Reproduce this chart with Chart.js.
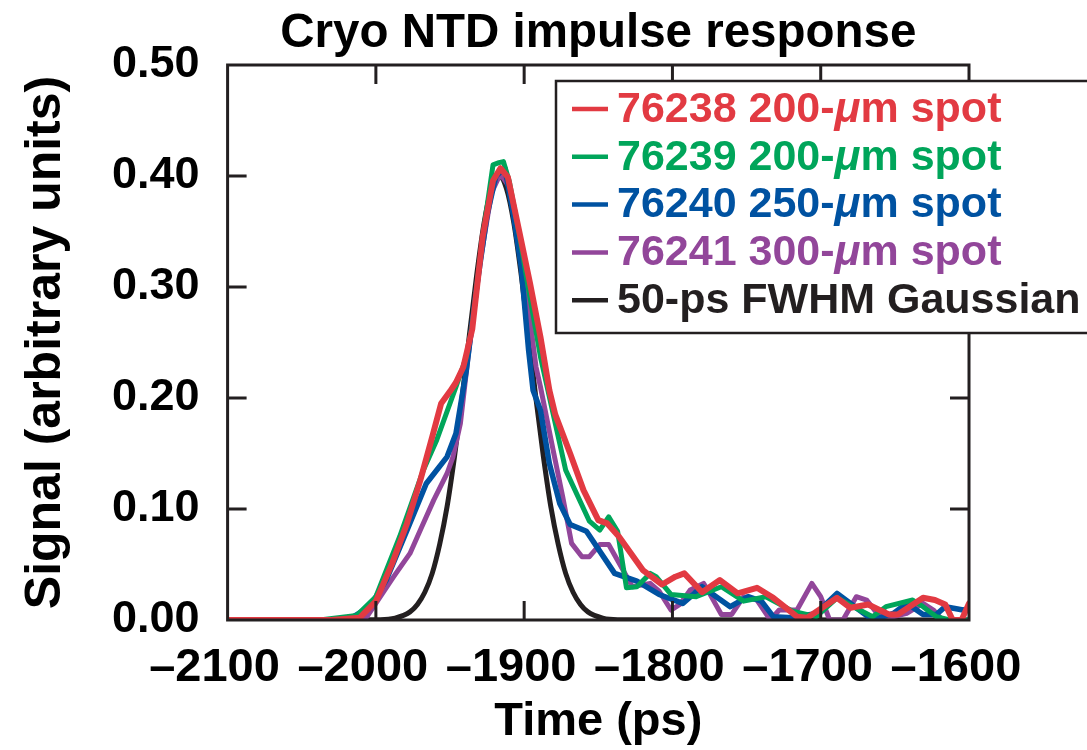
<!DOCTYPE html>
<html lang="en">

<head>
  <meta charset="UTF-8" />
  <title>Cryo NTD impulse response</title>
  <script src="https://cdn.jsdelivr.net/npm/chart.js"></script>
  <style>
    body { margin: 0; background: #fff; }
    #box { width: 1087px; height: 750px; }
  </style>
</head>

<body>
  <div id="box">
    <canvas id="grafico" width="1087" height="750"></canvas>
  </div>

  <script>
    // tick values
    var xTicks = [-2100, -2000, -1900, -1800, -1700, -1600];
    var yTicks = [0, 0.1, 0.2, 0.3, 0.4, 0.5];

    var seriesLabels = [
      "76238 200-μm spot",
      "76239 200-μm spot",
      "76240 250-μm spot",
      "76241 300-μm spot",
      "50-ps FWHM Gaussian",
    ];

    // 76238 200-um spot
    var redTime = [-2100, -2030, -2011, -2000, -1989, -1979, -1970, -1962, -1956, -1950, -1946, -1941, -1935, -1928, -1921, -1916, -1911, -1903, -1896, -1889, -1883, -1879, -1869, -1860, -1850, -1844, -1836, -1820, -1807, -1798, -1792, -1780, -1768, -1756, -1743, -1732, -1716, -1709, -1689, -1680, -1668, -1654, -1648, -1631, -1623, -1616, -1611, -1605, -1600];
    var redSignal = [0, 0, 0.002, 0.017, 0.051, 0.087, 0.126, 0.165, 0.195, 0.206, 0.214, 0.228, 0.262, 0.345, 0.396, 0.407, 0.399, 0.348, 0.303, 0.255, 0.207, 0.185, 0.150, 0.117, 0.090, 0.087, 0.075, 0.045, 0.032, 0.039, 0.042, 0.025, 0.036, 0.024, 0.029, 0.020, 0.003, 0.002, 0.020, 0.011, 0.014, 0.005, 0.005, 0.020, 0.018, 0.014, 0, 0, 0.015];

    // 76239 200-um spot
    var greenTime = [-2100, -2038, -2013, -2000, -1984, -1968, -1959, -1946, -1939, -1935, -1928, -1921, -1917, -1914, -1910, -1903, -1896, -1889, -1881, -1872, -1856, -1849, -1843, -1837, -1831, -1824, -1815, -1811, -1801, -1784, -1767, -1752, -1737, -1719, -1703, -1689, -1678, -1665, -1656, -1638, -1631, -1622, -1613, -1600];
    var greenSignal = [0, 0, 0.004, 0.021, 0.075, 0.135, 0.162, 0.210, 0.237, 0.265, 0.345, 0.410, 0.412, 0.413, 0.395, 0.345, 0.290, 0.237, 0.189, 0.135, 0.089, 0.081, 0.093, 0.080, 0.029, 0.030, 0.042, 0.039, 0.023, 0.021, 0.030, 0.017, 0.021, 0.008, 0.003, 0.020, 0.012, 0.003, 0.012, 0.018, 0.012, 0.003, 0, 0];

    // 76240 250-um spot
    var blueTime = [-2100, -2030, -2015, -2004, -1993, -1979, -1966, -1952, -1946, -1939, -1932, -1925, -1919, -1913, -1907, -1902, -1897, -1894, -1889, -1883, -1876, -1869, -1858, -1839, -1824, -1809, -1793, -1780, -1761, -1749, -1740, -1732, -1719, -1703, -1689, -1674, -1665, -1651, -1642, -1631, -1622, -1616, -1604, -1600];
    var blueSignal = [0, 0, 0.003, 0.012, 0.036, 0.081, 0.123, 0.147, 0.168, 0.225, 0.300, 0.365, 0.400, 0.407, 0.363, 0.318, 0.243, 0.207, 0.189, 0.141, 0.105, 0.086, 0.080, 0.042, 0.035, 0.023, 0.015, 0.030, 0.012, 0.021, 0.017, 0.003, 0.002, 0.006, 0.024, 0.009, 0, 0.006, 0.015, 0.005, 0.005, 0.012, 0.009, 0.010];

    // 76241 300-um spot
    var purpleTime = [-2100, -2020, -2006, -2000, -1988, -1977, -1970, -1961, -1952, -1948, -1943, -1938, -1930, -1922, -1916, -1910, -1903, -1897, -1892, -1889, -1880, -1874, -1868, -1861, -1856, -1849, -1843, -1827, -1815, -1809, -1801, -1795, -1788, -1779, -1775, -1767, -1760, -1752, -1743, -1734, -1728, -1716, -1706, -1700, -1694, -1685, -1676, -1669, -1662, -1654, -1642, -1631, -1624, -1618, -1600];
    var purpleSignal = [0, 0, 0.003, 0.015, 0.039, 0.060, 0.081, 0.108, 0.132, 0.147, 0.177, 0.235, 0.320, 0.385, 0.402, 0.390, 0.340, 0.280, 0.228, 0.210, 0.150, 0.111, 0.069, 0.057, 0.057, 0.068, 0.068, 0.030, 0.033, 0.026, 0.009, 0.014, 0.027, 0.033, 0.024, 0.005, 0.005, 0.021, 0.018, 0, 0.009, 0.009, 0.033, 0.021, 0, 0, 0.021, 0.018, 0.006, 0.002, 0.006, 0.015, 0.009, 0, 0];

    // 50-ps FWHM Gaussian
    var gaussTime = [-2100, -1997, -1987, -1977, -1972, -1967, -1962, -1957, -1952, -1947, -1942, -1937, -1932, -1927, -1922, -1917, -1912, -1907, -1902, -1897, -1892, -1887, -1882, -1877, -1872, -1867, -1862, -1857, -1847, -1837, -1600];
    var gaussSignal = [0, 0.0003, 0.0017, 0.0073, 0.014, 0.025, 0.042, 0.068, 0.102, 0.147, 0.199, 0.256, 0.311, 0.358, 0.389, 0.400, 0.389, 0.358, 0.311, 0.256, 0.199, 0.147, 0.102, 0.068, 0.042, 0.025, 0.014, 0.0073, 0.0017, 0.0003, 0];

    var cores = ["#e23a42", "#00a55a", "#0052a1", "#92469a", "#231f20"];
    var larguras = [6, 5, 5.5, 5, 5];

    function juntar(tempo, sinal) {
      var pontos = [];
      for (var i = 0; i < tempo.length; i++) {
        pontos.push({ x: tempo[i], y: sinal[i] });
      }
      return pontos;
    }

    var seriesData = [
      juntar(redTime, redSignal),
      juntar(greenTime, greenSignal),
      juntar(blueTime, blueSignal),
      juntar(purpleTime, purpleSignal),
      juntar(gaussTime, gaussSignal),
    ];

    var datasets = [];
    for (var i = 0; i < seriesData.length; i++) {
      datasets.push({
        label: seriesLabels[i],
        data: seriesData[i],
        borderColor: cores[i],
        backgroundColor: cores[i],
        borderWidth: larguras[i],
        pointRadius: 0,
        fill: false,
        tension: 0,
        cubicInterpolationMode: i == 4 ? "monotone" : "default",
        borderJoinStyle: "round",
        borderCapStyle: "round",
      });
    }

    var fonte = "'Liberation Sans', Arial, Helvetica, sans-serif";

    // frame, inward ticks, title and boxed legend
    var moldura = {
      id: "moldura",
      afterDatasetsDraw: function (chart) {
        var ctx = chart.ctx;
        var a = chart.chartArea;
        var sx = chart.scales.x;
        var sy = chart.scales.y;
        var tam = 19;

        ctx.save();
        ctx.strokeStyle = "#231f20";
        ctx.lineWidth = 3;
        ctx.beginPath();
        for (var i = 1; i < xTicks.length - 1; i++) {
          var px = sx.getPixelForValue(xTicks[i]);
          ctx.moveTo(px, a.bottom);
          ctx.lineTo(px, a.bottom - tam);
          ctx.moveTo(px, a.top);
          ctx.lineTo(px, a.top + tam);
        }
        for (var j = 1; j < yTicks.length - 1; j++) {
          var py = sy.getPixelForValue(yTicks[j]);
          ctx.moveTo(a.left, py);
          ctx.lineTo(a.left + tam, py);
          ctx.moveTo(a.right, py);
          ctx.lineTo(a.right - tam, py);
        }
        ctx.stroke();
        ctx.strokeRect(a.left, a.top, a.right - a.left, a.bottom - a.top);

        // title
        ctx.fillStyle = "#000";
        ctx.font = "bold 47.5px " + fonte;
        ctx.textAlign = "center";
        ctx.textBaseline = "alphabetic";
        ctx.fillText("Cryo NTD impulse response", (a.left + a.right) / 2, 47);

        // legend
        var lx = 556, ly = 81, lw = 540, lh = 252;
        ctx.fillStyle = "#fff";
        ctx.fillRect(lx, ly, lw, lh);
        ctx.lineWidth = 2.5;
        ctx.strokeRect(lx, ly, lw, lh);

        ctx.textAlign = "left";
        ctx.textBaseline = "middle";
        for (var k = 0; k < chart.data.datasets.length; k++) {
          var ds = chart.data.datasets[k];
          var yy = 109 + k * 47.8;
          ctx.strokeStyle = ds.borderColor;
          ctx.lineWidth = 4.5;
          ctx.beginPath();
          ctx.moveTo(572, yy);
          ctx.lineTo(608, yy);
          ctx.stroke();

          ctx.fillStyle = ds.borderColor;
          var partes = ds.label.split("μ");
          var xx = 617;
          for (var p = 0; p < partes.length; p++) {
            if (p > 0) {
              ctx.font = "italic bold 43px " + fonte;
              ctx.fillText("μ", xx, yy + 1);
              xx += ctx.measureText("μ").width;
            }
            ctx.font = "bold 43px " + fonte;
            ctx.fillText(partes[p], xx, yy + 1);
            xx += ctx.measureText(partes[p]).width;
          }
        }
        ctx.restore();
      },
    };

    new Chart(grafico, {
      type: "line",
      data: { datasets: datasets },
      plugins: [moldura],
      options: {
        responsive: false,
        animation: false,
        layout: {
          padding: { top: 65, right: 118, left: 0, bottom: 0 },
        },
        plugins: {
          legend: { display: false },
          title: { display: false },
          tooltip: { enabled: false },
        },
        scales: {
          x: {
            type: "linear",
            min: -2100,
            max: -1600,
            afterFit: function (scale) {
              scale.height = 130;
            },
            afterBuildTicks: function (scale) {
              scale.ticks = xTicks.map(function (v) { return { value: v }; });
            },
            grid: { display: false, drawTicks: false },
            border: { display: false },
            ticks: {
              padding: 20,
              maxRotation: 0,
              minRotation: 0,
              autoSkip: false,
              color: "#000",
              font: { family: fonte, size: 47, weight: "bold" },
              callback: function (v) {
                return "\u2013" + Math.abs(v) + "\u2007";
              },
            },
            title: {
              display: true,
              text: "Time (ps)",
              color: "#000",
              padding: { top: 0, bottom: 0 },
              font: { family: fonte, size: 47, weight: "bold" },
            },
          },
          y: {
            min: 0,
            max: 0.5,
            afterFit: function (scale) {
              scale.width = 227.6;
            },
            afterBuildTicks: function (scale) {
              scale.ticks = yTicks.map(function (v) { return { value: v }; });
            },
            grid: { display: false, drawTicks: false },
            border: { display: false },
            ticks: {
              padding: 28,
              color: "#000",
              font: { family: fonte, size: 45, weight: "bold" },
              callback: function (v) {
                return v.toFixed(2);
              },
            },
            title: {
              display: true,
              text: "Signal (arbitrary units)",
              color: "#000",
              padding: { top: 16, bottom: 0 },
              font: { family: fonte, size: 50, weight: "bold" },
            },
          },
        },
      },
    });
  </script>
</body>

</html>
